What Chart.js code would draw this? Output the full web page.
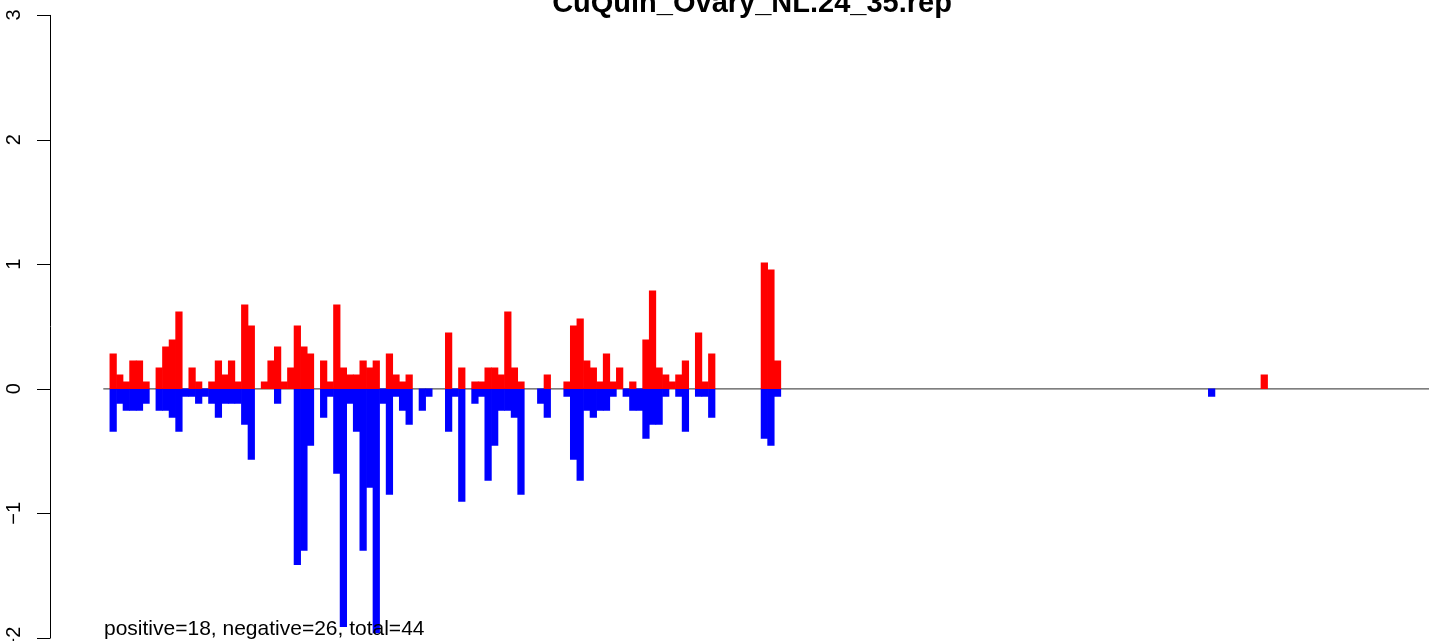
<!DOCTYPE html>
<html>
<head>
<meta charset="utf-8">
<script src="https://cdn.jsdelivr.net/npm/chart.js@4"></script>
<style>
  html, body { margin: 0; padding: 0; background: #fff; overflow: hidden; }
  #wrap { position: relative; width: 1432px; height: 641px; }
</style>
</head>
<body>
<div id="wrap"><canvas id="chart"></canvas></div>
<script>
const chartTitle = 'CuQuin_Ovary_NL.24_35.rep';
const footNote = 'positive=18, negative=26, total=44';
const yTicks = [-2, -1, 0, 1, 2, 3];
const yTickLabels = ['\u22122', '\u22121', '0', '1', '2', '3'];
const slotCount = 202;

// bar heights for slots 0..102 (null = no bar)
const posMain = [null,
  0.281, 0.112, 0.056, 0.225, 0.225, 0.056, null, 0.168, 0.337, 0.393,
  0.618, null, 0.168, 0.056, null, 0.056, 0.225, 0.112, 0.225, 0.056,
  0.674, 0.505, null, 0.056, 0.225, 0.337, 0.056, 0.168, 0.505, 0.337,
  0.281, null, 0.225, 0.056, 0.674, 0.168, 0.112, 0.112, 0.225, 0.168,
  0.225, null, 0.281, 0.112, 0.056, 0.112, null, null, null, null,
  null, 0.449, null, 0.168, null, 0.056, 0.056, 0.168, 0.168, 0.112,
  0.618, 0.168, 0.056, null, null, null, 0.112, null, null, 0.056,
  0.505, 0.561, 0.225, 0.168, 0.056, 0.281, 0.056, 0.168, null, 0.056,
  null, 0.393, 0.786, 0.168, 0.112, 0.056, 0.112, 0.225, null, 0.449,
  0.056, 0.281, null, null, null, null, null, null, null, 1.011,
  0.955, 0.225];
const negMain = [null,
  -0.342, -0.118, -0.174, -0.174, -0.174, -0.118, null, -0.174, -0.174, -0.230,
  -0.342, -0.061, -0.061, -0.118, -0.061, -0.118, -0.230, -0.118, -0.118, -0.118,
  -0.286, -0.567, null, null, null, -0.118, null, null, -1.412, -1.297,
  -0.455, null, -0.230, -0.061, -0.679, -1.910, -0.118, -0.342, -1.297, -0.791,
  -1.960, -0.118, -0.848, -0.061, -0.174, -0.286, null, -0.174, -0.061, null,
  null, -0.342, -0.061, -0.904, null, -0.118, -0.061, -0.735, -0.455, -0.174,
  -0.174, -0.230, -0.848, null, null, -0.118, -0.230, null, null, -0.061,
  -0.567, -0.735, -0.174, -0.230, -0.174, -0.174, -0.061, null, -0.061, -0.174,
  -0.174, -0.398, -0.286, -0.286, -0.061, null, -0.061, -0.342, null, -0.061,
  -0.061, -0.230, null, null, null, null, null, null, null, -0.398,
  -0.455, -0.061];
// lone bars further right: [slot, value]
const posFar = [[176, 0.112]];
const negFar = [[168, -0.061]];

const labels = [];
const pos = [];
const neg = [];
for (let i = 0; i < slotCount; i++) {
  labels.push(String(i));
  pos.push(i < posMain.length ? posMain[i] : null);
  neg.push(i < negMain.length ? negMain[i] : null);
}
posFar.forEach(([s, v]) => { pos[s] = v; });
negFar.forEach(([s, v]) => { neg[s] = v; });

const rStyle = {
  id: 'rStyle',
  beforeDatasetsDraw(chart) {
    const ctx = chart.ctx, y = chart.scales.y, a = chart.chartArea;
    const y0 = y.getPixelForValue(0);
    ctx.save();
    ctx.strokeStyle = '#555';
    ctx.lineWidth = 1.3;
    ctx.beginPath();
    ctx.moveTo(a.left, y0);
    ctx.lineTo(a.right, y0);
    ctx.stroke();
    ctx.restore();
  },
  afterDraw(chart) {
    const ctx = chart.ctx, y = chart.scales.y;
    const axisX = 50.5;
    ctx.save();
    ctx.strokeStyle = '#000';
    ctx.lineWidth = 1;
    ctx.beginPath();
    ctx.moveTo(axisX, y.getPixelForValue(yTicks[0]));
    ctx.lineTo(axisX, y.getPixelForValue(yTicks[yTicks.length - 1]));
    yTicks.forEach(v => {
      const py = Math.round(y.getPixelForValue(v)) + 0.5;
      ctx.moveTo(axisX, py);
      ctx.lineTo(37, py);
    });
    ctx.stroke();

    ctx.fillStyle = '#000';
    ctx.font = '20px "Liberation Sans", Arial, sans-serif';
    ctx.textAlign = 'center';
    ctx.textBaseline = 'middle';
    yTicks.forEach((v, i) => {
      ctx.save();
      ctx.translate(14, y.getPixelForValue(v));
      ctx.rotate(-Math.PI / 2);
      ctx.fillText(yTickLabels[i], 0, 0);
      ctx.restore();
    });

    ctx.textAlign = 'left';
    ctx.textBaseline = 'alphabetic';
    ctx.font = '21px "Liberation Sans", Arial, sans-serif';
    ctx.fillText(footNote, 104, 635);

    ctx.textAlign = 'center';
    ctx.font = 'bold 29px "Liberation Sans", Arial, sans-serif';
    ctx.fillText(chartTitle, 752, 12);
    ctx.restore();
  }
};

new Chart(document.getElementById('chart'), {
  type: 'bar',
  data: {
    labels: labels,
    datasets: [{
      data: pos,
      backgroundColor: '#ff0000',
      borderWidth: 0,
      barPercentage: 1,
      categoryPercentage: 1,
      grouped: false
    }, {
      data: neg,
      backgroundColor: '#0000ff',
      borderWidth: 0,
      barPercentage: 1,
      categoryPercentage: 1,
      grouped: false
    }]
  },
  options: {
    responsive: true,
    maintainAspectRatio: false,
    animation: false,
    layout: { padding: { left: 103.3, right: 0, top: 0, bottom: 0 } },
    plugins: { legend: { display: false }, tooltip: { enabled: false } },
    scales: {
      x: { display: false },
      y: { display: false, min: -2.024, max: 3.12 }
    }
  },
  plugins: [rStyle]
});
</script>
</body>
</html>
